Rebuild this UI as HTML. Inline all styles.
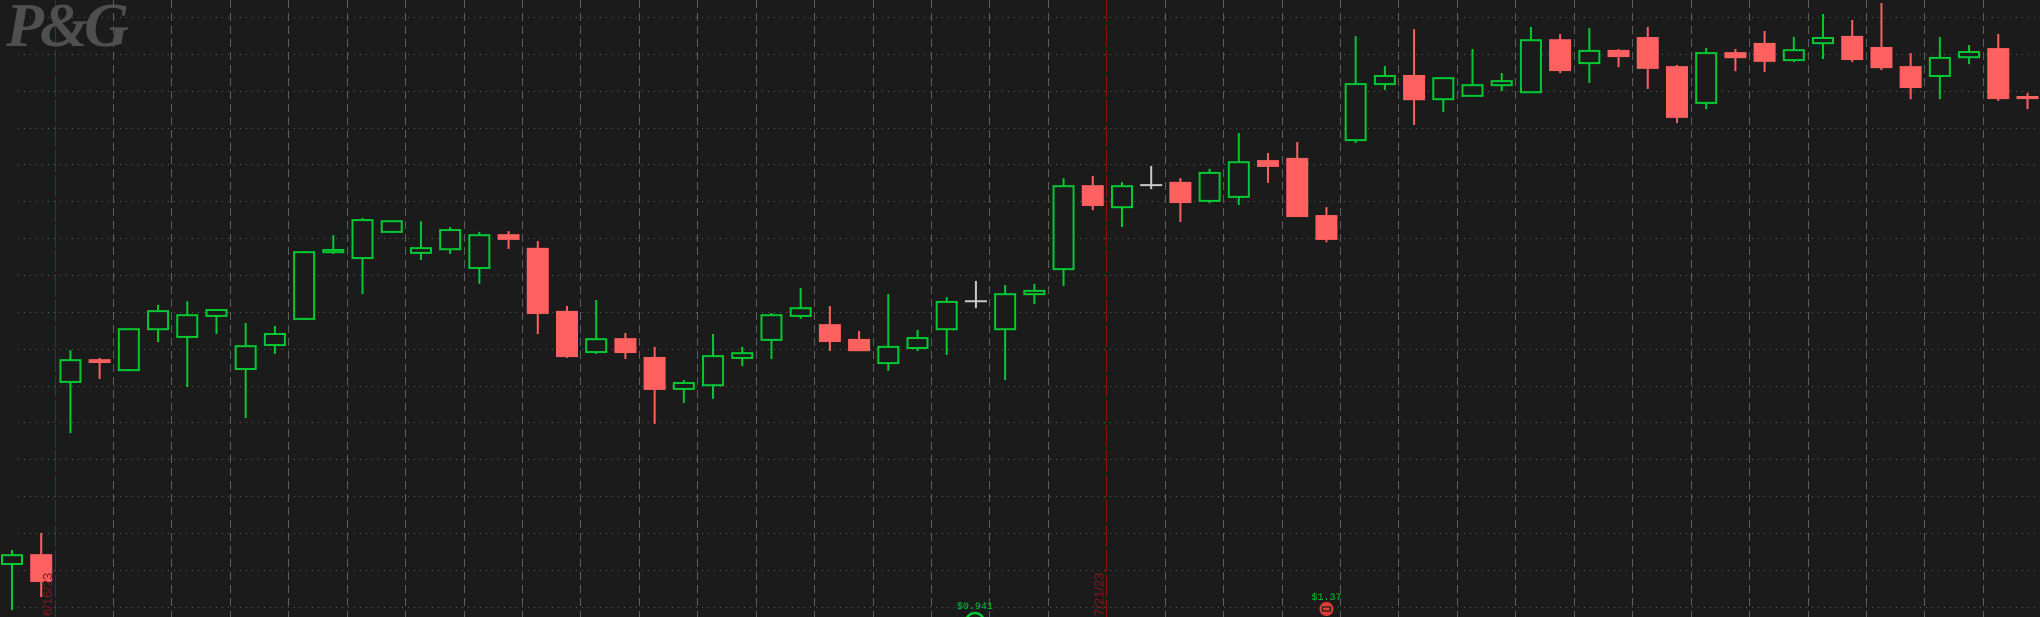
<!DOCTYPE html>
<html><head><meta charset="utf-8">
<style>
html,body{margin:0;padding:0;background:#1b1b1b;overflow:hidden;}
svg{display:block;}
</style></head>
<body>
<svg id="chart" width="2040" height="617" viewBox="0 0 2040 617" xmlns="http://www.w3.org/2000/svg">
<rect x="0" y="0" width="2040" height="617" fill="#1b1b1b"/>
<g id="grid"></g>
<text x="6" y="46" font-family="Liberation Serif, serif" font-style="italic" font-weight="bold" font-size="62" fill="#4f4f4f" letter-spacing="-4">P&amp;G</text>
<g id="candles"></g>
<g id="events"></g>
</svg>
<script>
const opens  = [143.16,143.40,148.10,148.69,148.42,149.53,149.32,149.89,148.45,149.10,149.81,151.62,151.46,152.17,151.60,151.70,151.19,152.08,151.71,150.00,148.91,149.26,148.75,147.91,148.01,148.75,149.24,149.89,149.64,149.24,148.61,149.02,149.53,150.29,149.53,150.48,151.16,153.41,152.84,153.44,153.50,153.01,153.12,154.09,154.15,152.60,154.66,156.18,156.40,155.77,155.86,156.15,155.96,157.37,156.75,157.08,157.43,156.64,155.67,157.02,157.27,156.83,157.29,157.46,157.16,156.64,156.40,156.91,157.13,155.83];
const highs  = [143.54,144.00,148.96,148.75,149.56,150.19,150.29,150.08,149.70,149.62,151.65,152.08,152.55,152.46,152.46,152.30,152.17,152.19,151.92,150.16,150.32,149.43,149.05,148.15,149.40,149.05,149.97,150.65,150.16,149.48,150.48,149.51,150.40,150.84,150.73,150.76,153.63,153.69,153.52,153.96,153.63,153.88,154.85,154.31,154.61,152.84,157.48,156.67,157.67,156.37,157.13,156.48,157.73,157.54,157.70,157.13,157.73,156.70,157.16,157.13,157.62,157.46,158.08,157.92,158.38,157.02,157.46,157.24,157.54,155.94];
const lows   = [141.91,142.26,146.71,148.18,148.40,149.18,147.96,149.40,147.12,148.86,149.78,151.57,150.48,152.17,151.41,151.57,150.76,151.71,149.40,148.75,148.86,148.72,146.96,147.53,147.64,148.53,148.72,149.81,148.94,148.94,148.40,148.94,148.83,150.10,148.15,150.21,150.70,152.76,152.30,153.33,152.44,152.95,152.90,153.50,152.60,151.89,154.58,156.02,155.07,155.42,155.86,155.99,155.96,156.48,156.21,156.64,156.05,155.12,155.50,156.53,156.51,156.78,156.86,156.78,156.56,155.77,155.77,156.72,155.72,155.50];
const closes = [143.40,142.70,148.69,148.64,149.53,150.02,149.91,150.05,149.07,149.40,151.62,151.68,152.49,152.46,151.73,152.22,152.08,151.98,149.97,148.80,149.26,148.91,147.91,148.07,148.80,148.88,149.91,150.10,149.21,148.96,149.05,149.29,150.27,150.29,150.48,150.57,153.41,152.90,153.41,153.44,152.98,153.77,154.06,153.96,152.60,151.98,156.18,156.40,155.77,156.34,156.15,156.26,157.37,156.56,157.08,156.94,156.62,155.29,157.02,156.91,156.81,157.10,157.43,156.86,156.64,156.10,156.89,157.05,155.80,155.80];
const dateLabels = ["6/16/23","7/21/23"];
const dateLabelIndex = [1.5, 37.5];
const dividendLabels = ["$0.941","$1.37"];
const dividendIndex = [33, 45];

const NS="http://www.w3.org/2000/svg";
const yTop=158, pxPerUnit=36.86, y0=17;
function yScale(p){return y0+(yTop-p)*pxPerUnit;}
function xScale(i){return 12+29.21*i;}
function mk(tag,attrs,parent){const e=document.createElementNS(NS,tag);for(const k in attrs)e.setAttribute(k,attrs[k]);parent.appendChild(e);return e;}

const grid=document.getElementById('grid');
for(let k=0;k<17;k++){
  const y=Math.round(yScale(yTop-k))+0.5;
  const l=mk('line',{x1:18,x2:2040,y1:y,y2:y,stroke:'#5a5a5a','stroke-width':1,'stroke-dasharray':'1 5'},grid);
  
  
}
for(let k=0;k<35;k++){
  const x=Math.round(54.6+58.43*k)+0.5;
  const isRed=(k===0||k===18);
  const l=mk('line',{x1:x,x2:x,y1:0,y2:617,stroke:isRed?'#8a1414':'#5e5e5e','stroke-width':1,'stroke-dasharray':isRed?'22 3':'8 5'},grid);
  
  
}

const cg=document.getElementById('candles');
for(let i=0;i<opens.length;i++){
  const o=opens[i],c=closes[i],h=highs[i],lo=lows[i];
  const x=xScale(i);
  const up=c>o, flat=Math.abs(c-o)<0.005;
  const col=flat?'#c8c8c8':(up?'#00c832':'#ff6060');
  const g=mk('g',{},cg);
  
  
  mk('line',{x1:x,x2:x,y1:yScale(h),y2:yScale(lo),stroke:col,'stroke-width':2},g);
  const top=yScale(Math.max(o,c)), bot=yScale(Math.min(o,c));
  if(flat){
    mk('line',{x1:x-11,x2:x+11,y1:top,y2:top,stroke:col,'stroke-width':2},g);
  }else if(up){
    mk('rect',{x:x-10,y:top,width:20,height:Math.max(bot-top,2),fill:'#1b1b1b',stroke:col,'stroke-width':2},g);
  }else{
    mk('rect',{x:x-11,y:top-1,width:22,height:Math.max(bot-top+2,3),fill:col},g);
  }
}

const ev=document.getElementById('events');
for(let j=0;j<dateLabels.length;j++){
  const x=xScale(dateLabelIndex[j])+0;
  const t=mk('text',{x:0,y:0,transform:'translate('+(x-4)+',616) rotate(-90)','font-family':'Liberation Sans, sans-serif','font-size':13,fill:'#8a1414'},ev);
  t.textContent=dateLabels[j];
  
  
}
// dividend markers
{
  const x=xScale(dividendIndex[0]);
  const t=mk('text',{x:x-1,y:609,'text-anchor':'middle','font-family':'Liberation Mono, monospace','font-size':10,fill:'#00c832'},ev);
  t.textContent=dividendLabels[0];
  
  
  const c=mk('circle',{cx:x-1,cy:622,r:9,fill:'none',stroke:'#00c832','stroke-width':2.5},ev);
  
  
}
{
  const x=xScale(dividendIndex[1]);
  const t=mk('text',{x:x,y:600,'text-anchor':'middle','font-family':'Liberation Mono, monospace','font-size':10,fill:'#00c832'},ev);
  t.textContent=dividendLabels[1];
  
  
  const c=mk('circle',{cx:x,cy:609,r:7,fill:'#e03a3a'},ev);
  
  
  const r=mk('rect',{x:x-4,y:607,width:8,height:4,fill:'none',stroke:'#1b1b1b','stroke-width':1.2},ev);
  
  
}
</script>
</body></html>
